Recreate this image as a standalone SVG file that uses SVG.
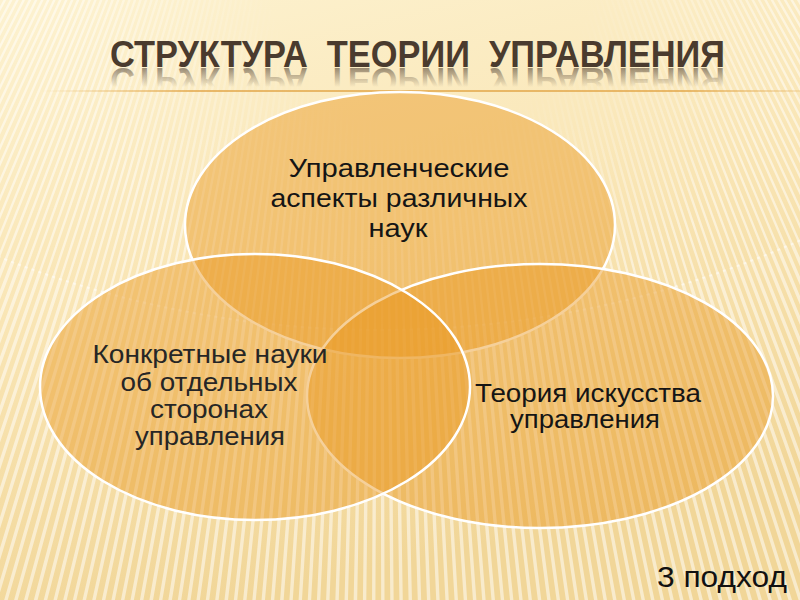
<svg xmlns="http://www.w3.org/2000/svg" width="800" height="600" viewBox="0 0 800 600">
  <defs>
    <linearGradient id="bg" x1="0" y1="0" x2="0.3" y2="1">
      <stop offset="0" stop-color="#fdf2d0"/>
      <stop offset="0.5" stop-color="#f9e5b4"/>
      <stop offset="1" stop-color="#f1d698"/>
    </linearGradient>
    <radialGradient id="stripeFade" gradientUnits="userSpaceOnUse" cx="430" cy="-30" r="560">
      <stop offset="0" stop-color="#000"/>
      <stop offset="0.28" stop-color="#000"/>
      <stop offset="0.65" stop-color="#fff"/>
    </radialGradient>
    <mask id="stripeMask">
      <rect x="0" y="0" width="800" height="600" fill="url(#stripeFade)"/>
    </mask>
    <linearGradient id="rule" gradientUnits="userSpaceOnUse" x1="40" y1="0" x2="800" y2="0">
      <stop offset="0" stop-color="#e2a648" stop-opacity="0"/>
      <stop offset="0.2" stop-color="#e2a648" stop-opacity="1"/>
      <stop offset="0.85" stop-color="#e2a648" stop-opacity="1"/>
      <stop offset="1" stop-color="#e2a648" stop-opacity="0.3"/>
    </linearGradient>
    <linearGradient id="refl" gradientUnits="userSpaceOnUse" x1="0" y1="67" x2="0" y2="48">
      <stop offset="0" stop-color="#4a3a2c" stop-opacity="0.55"/>
      <stop offset="1" stop-color="#4a3a2c" stop-opacity="0"/>
    </linearGradient>
    <style>
      .title { font-family: "Liberation Sans", Arial, sans-serif; font-size: 36px; font-weight: bold; }
      .lbl { font-family: "Liberation Sans", Arial, sans-serif; font-size: 25px; fill: #151515; text-anchor: middle; }
      .lite { fill: #262626; }
      .ell { fill: #e8961e; fill-opacity: 0.45; stroke: #ffffff; stroke-width: 2.5; }
      .ray { fill: none; stroke: #ffffff; stroke-opacity: 0.5; stroke-width: 362; }
    </style>
  </defs>

  <!-- background -->
  <rect x="0" y="0" width="800" height="600" fill="url(#bg)"/>
  <g mask="url(#stripeMask)">
    <circle class="ray" cx="380" cy="-700" r="850" stroke-dasharray="2.4 3.6"/>
    <circle class="ray" cx="380" cy="-700" r="1210" stroke-dasharray="3.416 5.125"/>
  </g>

  <!-- title -->
  <g id="title">
    <text class="title" x="110" y="67" textLength="615" lengthAdjust="spacingAndGlyphs" fill="#4a3b2e" xml:space="preserve">СТРУКТУРА  ТЕОРИИ  УПРАВЛЕНИЯ</text>
    <text class="title" x="110" y="67" textLength="615" lengthAdjust="spacingAndGlyphs" fill="url(#refl)" transform="translate(0,135) scale(1,-1)" xml:space="preserve">СТРУКТУРА  ТЕОРИИ  УПРАВЛЕНИЯ</text>
    <line x1="40" y1="91" x2="800" y2="91" stroke="url(#rule)" stroke-width="1.5"/>
  </g>

  <!-- Venn circles -->
  <g id="node-top">
    <ellipse class="ell" cx="400" cy="225" rx="215" ry="133"/>
  </g>
  <g id="node-right">
    <ellipse class="ell" cx="540" cy="396" rx="233" ry="132"/>
  </g>
  <g id="node-left">
    <ellipse class="ell" cx="255" cy="387" rx="215" ry="133"/>
  </g>

  <g id="connectors"></g>

  <!-- labels -->
  <g id="label-top">
    <text class="lbl" x="399" y="177" textLength="221" lengthAdjust="spacingAndGlyphs">Управленческие</text>
    <text class="lbl" x="399" y="207" textLength="257" lengthAdjust="spacingAndGlyphs">аспекты различных</text>
    <text class="lbl" x="398" y="237" textLength="59" lengthAdjust="spacingAndGlyphs">наук</text>
  </g>
  <g id="label-left">
    <text class="lbl lite" x="210" y="363" textLength="235" lengthAdjust="spacingAndGlyphs">Конкретные науки</text>
    <text class="lbl lite" x="209" y="391" textLength="177" lengthAdjust="spacingAndGlyphs">об отдельных</text>
    <text class="lbl lite" x="209" y="418" textLength="118" lengthAdjust="spacingAndGlyphs">сторонах</text>
    <text class="lbl lite" x="210" y="445" textLength="150" lengthAdjust="spacingAndGlyphs">управления</text>
  </g>
  <g id="label-right">
    <text class="lbl" x="588" y="402" textLength="226" lengthAdjust="spacingAndGlyphs">Теория искусства</text>
    <text class="lbl" x="585" y="428" textLength="150" lengthAdjust="spacingAndGlyphs">управления</text>
  </g>

  <g id="note">
    <text x="657" y="587" font-family="'Liberation Sans', Arial, sans-serif" font-size="30" fill="#111" textLength="130" lengthAdjust="spacingAndGlyphs">3 подход</text>
  </g>
</svg>
